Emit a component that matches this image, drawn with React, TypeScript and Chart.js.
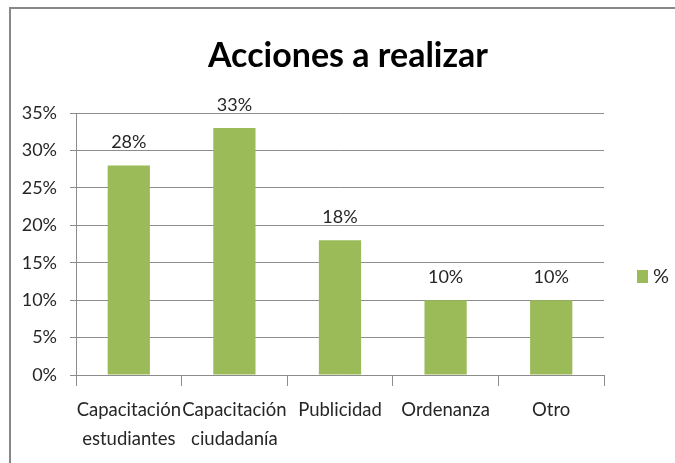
import React, { useEffect, useRef } from "react";
import { Chart, registerables } from "chart.js";

Chart.register(...registerables);

const TITLE = "Acciones a realizar";
const SERIES_NAME = "%";
const CATEGORIES: (string | string[])[] = [
  ["Capacitación", "estudiantes"],
  ["Capacitación", "ciudadanía"],
  "Publicidad",
  "Ordenanza",
  "Otro",
];
const VALUES = [0.28, 0.33, 0.18, 0.1, 0.1];
const Y_MAX = 0.35;
const Y_STEP = 0.05;

const FONT = "Lato, 'Liberation Sans', sans-serif";
const BAR_COLOR = "#9BBB59";
const GRID_COLOR = "#8c8c8c";
const TEXT_COLOR = "#262626";

const pct = (v: number) => Math.round(v * 100) + "%";

const decorPlugin = {
  id: "decor",
  afterDatasetsDraw(chart: any) {
    const { ctx, chartArea } = chart;
    ctx.save();
    // data labels
    const meta = chart.getDatasetMeta(0);
    ctx.fillStyle = TEXT_COLOR;
    ctx.font = `18px ${FONT}`;
    ctx.textAlign = "center";
    ctx.textBaseline = "alphabetic";
    meta.data.forEach((el: any, i: number) => {
      ctx.fillText(pct(VALUES[i]), el.x, el.y - 17);
    });
    // title
    ctx.font = `bold 34px ${FONT}`;
    ctx.fillStyle = "#000";
    ctx.fillText(TITLE, 348, 67);
    // legend
    const lx = chartArea.right + 33;
    const ly = chartArea.top + 157;
    ctx.fillStyle = BAR_COLOR;
    ctx.fillRect(lx, ly, 11, 13);
    ctx.fillStyle = TEXT_COLOR;
    ctx.font = `20px ${FONT}`;
    ctx.textAlign = "left";
    ctx.fillText(SERIES_NAME, lx + 16, ly + 13);
    ctx.restore();
  },
};

export default function App() {
  const ref = useRef<HTMLCanvasElement | null>(null);

  useEffect(() => {
    if (!ref.current) return;
    const chart = new Chart(ref.current, {
      type: "bar",
      data: {
        labels: CATEGORIES,
        datasets: [
          {
            label: SERIES_NAME,
            data: VALUES,
            backgroundColor: BAR_COLOR,
            barPercentage: 0.4,
            categoryPercentage: 1,
          },
        ],
      },
      options: {
        responsive: false,
        animation: false,
        layout: { padding: { top: 113, right: 71, left: 0, bottom: 0 } },
        plugins: {
          legend: { display: false },
          title: { display: false },
          tooltip: { enabled: false },
        },
        scales: {
          x: {
            afterFit: (s: any) => {
              s.height = 88;
            },
            grid: {
              offset: true,
              drawOnChartArea: false,
              drawTicks: true,
              tickLength: 11,
              color: GRID_COLOR,
            },
            border: { display: true, color: GRID_COLOR },
            ticks: {
              color: TEXT_COLOR,
              font: { family: FONT, size: 18.5, lineHeight: 1.6 },
              padding: 9,
              maxRotation: 0,
              autoSkip: false,
            },
          },
          y: {
            min: 0,
            max: Y_MAX,
            afterFit: (s: any) => {
              s.width = 76;
            },
            grid: {
              color: GRID_COLOR,
              drawTicks: true,
              tickLength: 6,
            },
            border: { display: true, color: GRID_COLOR },
            ticks: {
              stepSize: Y_STEP,
              color: TEXT_COLOR,
              font: { family: FONT, size: 18 },
              padding: 13,
              callback: (v: any) => pct(Number(v)),
            },
          },
        },
      },
      plugins: [decorPlugin],
    });
    return () => chart.destroy();
  }, []);

  return (
    <div style={{ position: "absolute", left: 0, top: 0, width: 675, height: 463, background: "#fff" }}>
      <canvas ref={ref} width={675} height={463} style={{ display: "block" }} />
      <div
        style={{
          position: "absolute",
          left: 9,
          top: 7,
          right: 0,
          bottom: 0,
          borderTop: "2px solid #888",
          borderLeft: "2px solid #888",
          pointerEvents: "none",
        }}
      />
    </div>
  );
}
